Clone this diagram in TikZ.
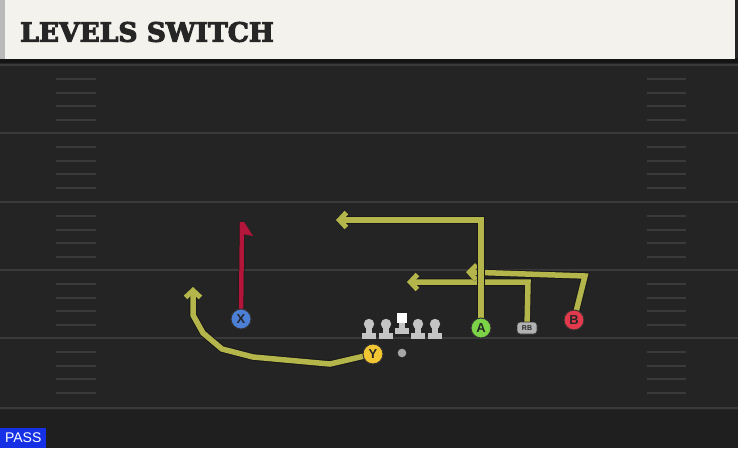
\documentclass[tikz,border=0pt]{standalone}
\usepackage{fontspec}
\setmainfont{Liberation Sans}
\newfontfamily\titlefont{DejaVu Serif}[BoldFeatures={FakeBold=4}]
\usetikzlibrary{arrows.meta}
\definecolor{fieldbg}{HTML}{242424}
\definecolor{titlebg}{HTML}{F4F2EC}
\definecolor{yardline}{HTML}{3A3A3A}
\definecolor{routecol}{HTML}{B4B54A}
\definecolor{xroutecol}{HTML}{B3163A}
\definecolor{xblue}{HTML}{4C7FD6}
\definecolor{yyellow}{HTML}{F2C632}
\definecolor{agreen}{HTML}{7DD348}
\definecolor{bred}{HTML}{E23A4C}
\definecolor{linegray}{HTML}{C4C4C4}
\definecolor{passblue}{HTML}{1630E6}
\tikzset{
  route/.style={line width=5.5pt, draw=routecol, line join=miter,
    preaction={draw=black!90, line width=7.5pt},
    -{Straight Barb[length=7pt,width=15pt,line width=5pt]}},
  player/.style={circle, draw=black!80, line width=1pt, minimum size=20pt,
    inner sep=0pt, text=black!85, font=\bfseries\fontsize{13}{13}\selectfont},
  hash/.style={draw=yardline, line width=1.5pt},
  lineman/.pic={
    \fill[linegray] (0,-3) circle (5.2);
    \fill[linegray] (-3,-3) rectangle (3,6);
    \fill[linegray] (-7,6) rectangle (7,11.5);
  }
}
\begin{document}
\begin{tikzpicture}[x=1pt,y=-1pt]
\useasboundingbox (0,0) rectangle (738,448);
% field
\fill[fieldbg] (0,0) rectangle (738,448);
\fill[black!88] (0,410) rectangle (738,448);
\foreach \y in {65,133,202,270,338,408}
  \draw[yardline, line width=2pt] (0,\y) -- (738,\y);
\foreach \y in {65,133,202,270,338}
  \foreach \d in {14,28,41,55} {
    \draw[hash] (56,\y+\d) -- (96,\y+\d);
    \draw[hash] (647,\y+\d) -- (686,\y+\d);
  }
% title
\fill[black!92] (0,58) rectangle (738,63);
\fill[titlebg] (0,0) rectangle (735,59);
\fill[gray!55] (0,0) rectangle (5,59);
\node[anchor=west, inner sep=0pt, text=black!85,
  font=\titlefont\bfseries\fontsize{26.5}{26.5}\selectfont] (title) at (20,32) {LEVELS SWITCH};
% spots
\coordinate (pX) at (241,319);
\coordinate (pY) at (373,354);
\coordinate (pA) at (481,328);
\coordinate (pRB) at (527,328);
\coordinate (pB) at (574,320);
% route points
\coordinate (x1) at (242,222);
\coordinate (y1) at (330,364);
\coordinate (y2) at (253,357);
\coordinate (y3) at (222,349);
\coordinate (y4) at (203,333);
\coordinate (y5) at (193,315);
\coordinate (y6) at (193,287);
\coordinate (a1) at (481,220);
\coordinate (a2) at (336,220);
\coordinate (r1) at (528,282);
\coordinate (r2) at (407,282);
\coordinate (b1) at (585,276);
\coordinate (b2) at (466,272);
% routes
\draw[route] (pRB) -- (r1) -- (r2);
\draw[route] (pB) -- (b1) -- (b2);
\draw[route] (pA) -- (a1) -- (a2);
\draw[route] (pY) -- (y1) -- (y2) -- (y3) -- (y4) -- (y5) -- (y6);
\draw[xroutecol, line width=4.5pt, preaction={draw=black!90, line width=6pt}] (pX) -- (x1);
\fill[xroutecol] (240,222) -- (244,222) -- (253,236) -- (243,234) -- cycle;
% line
\foreach \x in {369,386,418,435}
  \pic at (\x,327) {lineman};
\fill[white] (396.5,313) rectangle (406.5,323);
\fill[linegray] (398.5,323) rectangle (404.5,329);
\fill[linegray] (394.5,328) rectangle (408.5,333.5);
\fill[gray!70] (402,353) circle (4.3);
% players
\node[player, fill=xblue] (X) at (pX) {X};
\node[player, fill=yyellow] (Y) at (pY) {Y};
\node[player, fill=agreen] (A) at (pA) {A};
\node[player, fill=bred] (B) at (pB) {B};
\node[rounded corners=3pt, fill=gray!60, draw=black!80, line width=0.8pt,
  minimum width=20pt, minimum height=12pt, inner sep=0pt, text=black!85,
  font=\bfseries\fontsize{7}{7}\selectfont] (RB) at (pRB) {RB};
% play type
\node[anchor=south west, fill=passblue, text=white, inner sep=0pt,
  minimum width=46pt, minimum height=20pt,
  font=\fontsize{14}{14}\selectfont] (pass) at (0,448) {PASS};
\end{tikzpicture}
\end{document}
